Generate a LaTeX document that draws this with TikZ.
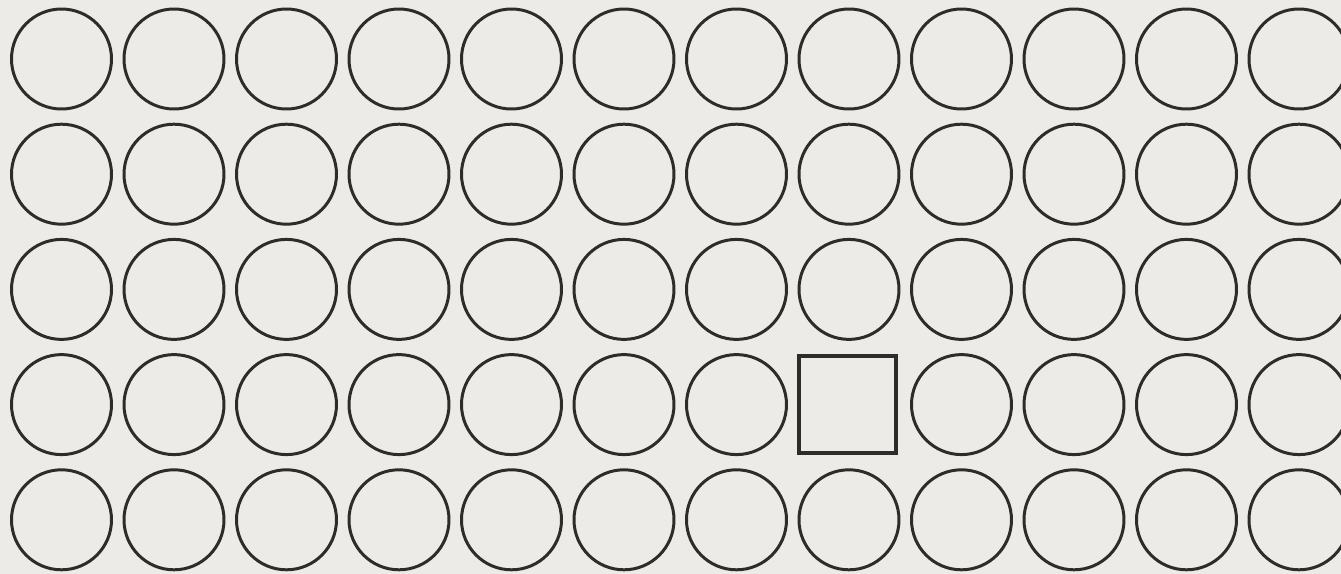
\documentclass[tikz,border=0pt]{standalone}
\usepackage{tikz}
\usetikzlibrary{positioning}

\definecolor{paper}{HTML}{EDEBE7}
\definecolor{ink}{HTML}{2E2B2B}

\begin{document}
\begin{tikzpicture}[
    ring/.style={draw=ink, circle, line width=0.85pt, minimum size=1cm, inner sep=0pt},
    box/.style={draw=ink, rectangle, line width=1.2pt, minimum size=0.97cm, inner sep=0pt}]
  \fill[paper] (0,0) rectangle (13.41,-5.74);
  \useasboundingbox (0,0) rectangle (13.41,-5.74);

  % rows of rings
  \foreach \r in {1,2,3,5} {
    \foreach \c in {1,...,12} {
      \node[ring] (c\r-\c) at ({0.615+1.125*(\c-1)}, {-0.59-1.152*(\r-1)}) {};
    }
  }
  \foreach \c in {1,...,7,9,10,11,12} {
    \node[ring] (c4-\c) at ({0.615+1.125*(\c-1)}, {-0.59-1.152*3}) {};
  }

  % the odd one out
  \node[box, right=0.09cm of c4-7] (sq) {};
\end{tikzpicture}
\end{document}
